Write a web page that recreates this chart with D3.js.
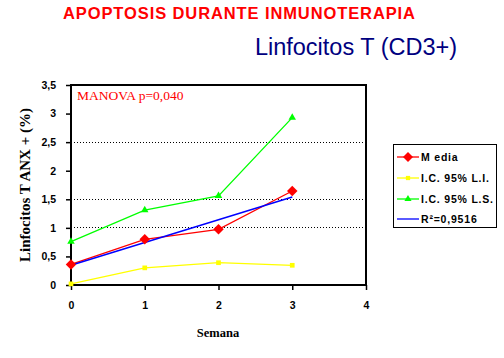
<!DOCTYPE html>
<html><head><meta charset="utf-8">
<script src="https://cdn.jsdelivr.net/npm/d3@7"></script>
<style>body{margin:0;background:#fff}svg{display:block}</style>
</head><body>
<svg id="c" width="504" height="358"></svg>
<script>
const weeks = [0, 1, 2, 3];
const media = [0.36, 0.80, 0.975, 1.645];
const ciLow = [0.02, 0.30, 0.39, 0.345];
const ciHigh = [0.76, 1.31, 1.56, 2.93];
const regX = [0, 3];
const regY = [0.345, 1.54];
const xTicks = [0, 1, 2, 3, 4];
const yTicks = [0, 0.5, 1, 1.5, 2, 2.5, 3, 3.5];
const gridVals = [1, 1.5, 2.5];
const legendLabels = ["M edia", "I.C. 95% L.I.", "I.C. 95% L.S.", "R\u00B2=0,9516"];

const svg = d3.select("#c");
const x = d3.scaleLinear().domain([0, 4]).range([71, 366]);
const y = d3.scaleLinear().domain([0, 3.5]).range([285, 85]);
const fmt = d => String(d).replace(".", ",");

// wide diamond symbol (square rotated 45deg)
const wideDiamond = {draw(ctx, size) {
  const r = Math.sqrt(size / 2);
  ctx.moveTo(0, -r); ctx.lineTo(r, 0); ctx.lineTo(0, r); ctx.lineTo(-r, 0); ctx.closePath();
}};

// titles
svg.append("text").attr("x", 239).attr("y", 19).attr("text-anchor", "middle")
  .attr("font-family", "Liberation Sans, Arial, sans-serif").attr("font-weight", "bold")
  .attr("font-size", 16.5).attr("fill", "#ff0000").attr("textLength", 352)
  .text("APOPTOSIS DURANTE INMUNOTERAPIA");
svg.append("text").attr("x", 356).attr("y", 55).attr("text-anchor", "middle")
  .attr("font-family", "Liberation Sans, Arial, sans-serif")
  .attr("font-size", 23.5).attr("fill", "#000080")
  .text("Linfocitos T (CD3+)");

// grid
svg.append("g").selectAll("line").data(gridVals).join("line")
  .attr("x1", x(0)).attr("x2", x(4)).attr("y1", d => y(d)).attr("y2", d => y(d))
  .attr("stroke", "#000").attr("stroke-width", 1).attr("stroke-dasharray", "1,2")
  .attr("shape-rendering", "crispEdges");

// frame
svg.append("rect").attr("x", x(0)).attr("y", y(3.5)).attr("width", x(4) - x(0)).attr("height", y(0) - y(3.5))
  .attr("fill", "none").attr("stroke", "#000").attr("stroke-width", 1.5).attr("shape-rendering", "crispEdges");

// axes
const yAxis = d3.axisLeft(y).tickValues(yTicks).tickSize(5).tickPadding(10).tickFormat(fmt);
const gy = svg.append("g").attr("transform", `translate(${x(0)},0)`).call(yAxis);
const xAxis = d3.axisBottom(x).tickValues(xTicks).tickSize(5).tickPadding(12).tickFormat(fmt);
const gx = svg.append("g").attr("transform", `translate(0,${y(0)})`).call(xAxis);
[gy, gx].forEach(g => {
  g.select(".domain").remove();
  g.selectAll(".tick line").attr("stroke", "#000").attr("stroke-width", 1.5);
  g.selectAll("text").attr("font-family", "Liberation Sans, Arial, sans-serif")
    .attr("font-weight", "bold").attr("font-size", 10.5).attr("fill", "#000");
});

// axis titles
svg.append("text").attr("transform", "translate(30,185) rotate(-90)").attr("text-anchor", "middle")
  .attr("font-family", "Liberation Serif, Times New Roman, serif").attr("font-weight", "bold")
  .attr("font-size", 15).attr("fill", "#000").text("Linfocitos T ANX + (%)");
svg.append("text").attr("x", 218).attr("y", 337).attr("text-anchor", "middle")
  .attr("font-family", "Liberation Serif, Times New Roman, serif").attr("font-weight", "bold")
  .attr("font-size", 12.5).attr("fill", "#000").text("Semana");

// MANOVA
svg.append("text").attr("x", 77).attr("y", 100)
  .attr("font-family", "Liberation Serif, Times New Roman, serif")
  .attr("font-size", 13.5).attr("fill", "#ff0000").text("MANOVA p=0,040");

// series
const line = d3.line().x(d => x(d[0])).y(d => y(d[1]));
const series = [
  {vals: ciLow, color: "#ffff00", sym: d3.symbolSquare, size: 22},
  {vals: ciHigh, color: "#00ff00", sym: d3.symbolTriangle, size: 24},
  {vals: media, color: "#ff0000", sym: wideDiamond, size: 55},
];
series.forEach(s => {
  const pts = weeks.map((w, i) => [w, s.vals[i]]);
  svg.append("path").attr("d", line(pts)).attr("fill", "none").attr("stroke", s.color).attr("stroke-width", 1.3);
  if (s.color === "#ff0000") {
    const reg = regX.map((v, i) => [v, regY[i]]);
    svg.append("path").attr("d", line(reg)).attr("fill", "none").attr("stroke", "#0000ff").attr("stroke-width", 1.5);
  }
  svg.append("g").selectAll("path").data(pts).join("path")
    .attr("transform", d => `translate(${x(d[0])},${y(d[1])})`)
    .attr("d", d3.symbol().type(s.sym).size(s.size)).attr("fill", s.color);
});

// legend
const lg = svg.append("g");
lg.append("rect").attr("x", 393.5).attr("y", 144.5).attr("width", 103).attr("height", 83)
  .attr("fill", "#fff").attr("stroke", "#000").attr("stroke-width", 1);
const legItems = [
  {color: "#ff0000", sym: wideDiamond, size: 50},
  {color: "#ffff00", sym: d3.symbolSquare, size: 18},
  {color: "#00ff00", sym: d3.symbolTriangle, size: 22},
  {color: "#0000ff", sym: null},
];
const ly = [157, 178, 199, 219];
legItems.forEach((it, i) => {
  lg.append("line").attr("x1", 397).attr("x2", 419).attr("y1", ly[i]).attr("y2", ly[i])
    .attr("stroke", it.color).attr("stroke-width", 1.3);
  if (it.sym) lg.append("path").attr("transform", `translate(408,${ly[i]})`)
    .attr("d", d3.symbol().type(it.sym).size(it.size)).attr("fill", it.color);
  lg.append("text").attr("x", 421).attr("y", ly[i] + 4)
    .attr("font-family", "Liberation Sans, Arial, sans-serif").attr("font-weight", "bold")
    .attr("font-size", 10.5).attr("letter-spacing", 0.8).attr("fill", "#000").text(legendLabels[i]);
});
</script>
</body></html>
